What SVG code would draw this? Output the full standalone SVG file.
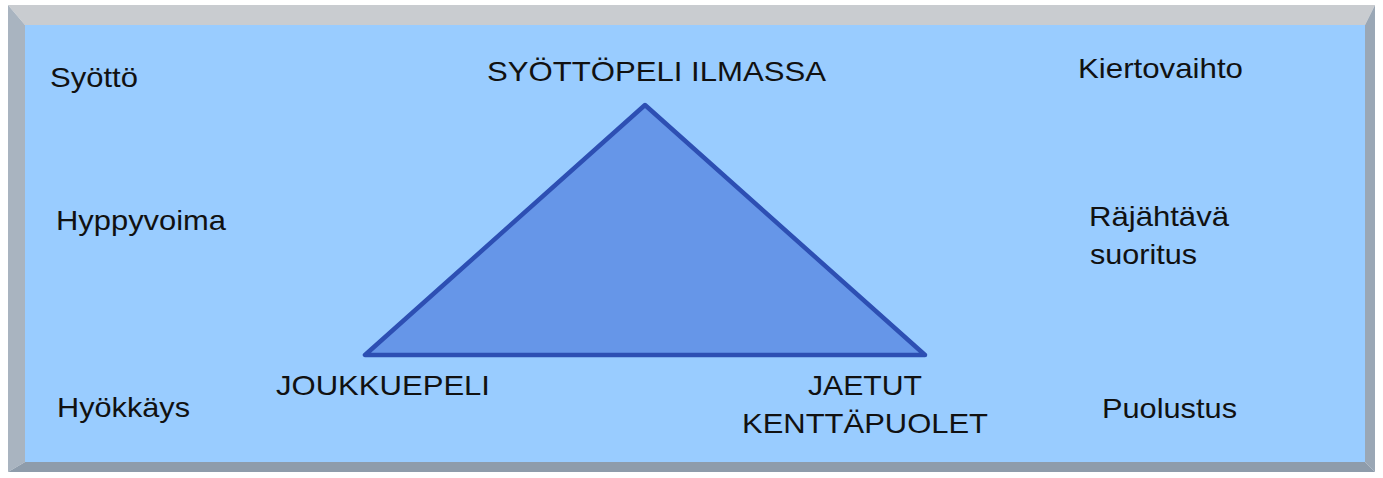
<svg xmlns="http://www.w3.org/2000/svg" width="1383" height="478" viewBox="0 0 1383 478">
<defs>
<style>
.t{font-family:"Liberation Sans",Arial,sans-serif;font-size:28px;fill:#111}
</style>
</defs>
<rect x="0" y="0" width="1383" height="478" fill="#ffffff"/>
<g id="frame">
<polygon points="8,5 1375,5 1365,25 25,25" fill="#c9ccd0"/>
<polygon points="8,5 25,25 25,462 8,472" fill="#a9b4c0"/>
<polygon points="1375,5 1375,472 1365,462 1365,25" fill="#9aa7b5"/>
<polygon points="8,472 25,462 1365,462 1375,472" fill="#8e9cab"/>
<rect x="25" y="25" width="1340" height="437" fill="#99ccff"/>
</g>
<g id="triangle">
<polygon points="645,105 365,355 925,355" fill="#6696e8" stroke="#2d4fb3" stroke-width="4.5" stroke-linejoin="round"/>
</g>
<g id="connectors"></g>
<g id="labels">
<text class="t" x="50" y="87" textLength="88" lengthAdjust="spacingAndGlyphs">Syöttö</text>
<text class="t" x="487" y="81" textLength="339" lengthAdjust="spacingAndGlyphs">SYÖTTÖPELI ILMASSA</text>
<text class="t" x="1078" y="78" textLength="165" lengthAdjust="spacingAndGlyphs">Kiertovaihto</text>
<text class="t" x="56" y="230" textLength="170" lengthAdjust="spacingAndGlyphs">Hyppyvoima</text>
<text class="t" x="1089" y="226" textLength="140" lengthAdjust="spacingAndGlyphs">Räjähtävä</text>
<text class="t" x="1090" y="264" textLength="107" lengthAdjust="spacingAndGlyphs">suoritus</text>
<text class="t" x="276" y="395" textLength="214" lengthAdjust="spacingAndGlyphs">JOUKKUEPELI</text>
<text class="t" x="808" y="395" textLength="114" lengthAdjust="spacingAndGlyphs">JAETUT</text>
<text class="t" x="742" y="433" textLength="246" lengthAdjust="spacingAndGlyphs">KENTTÄPUOLET</text>
<text class="t" x="57" y="417" textLength="133" lengthAdjust="spacingAndGlyphs">Hyökkäys</text>
<text class="t" x="1102" y="418" textLength="135" lengthAdjust="spacingAndGlyphs">Puolustus</text>
</g>
</svg>
